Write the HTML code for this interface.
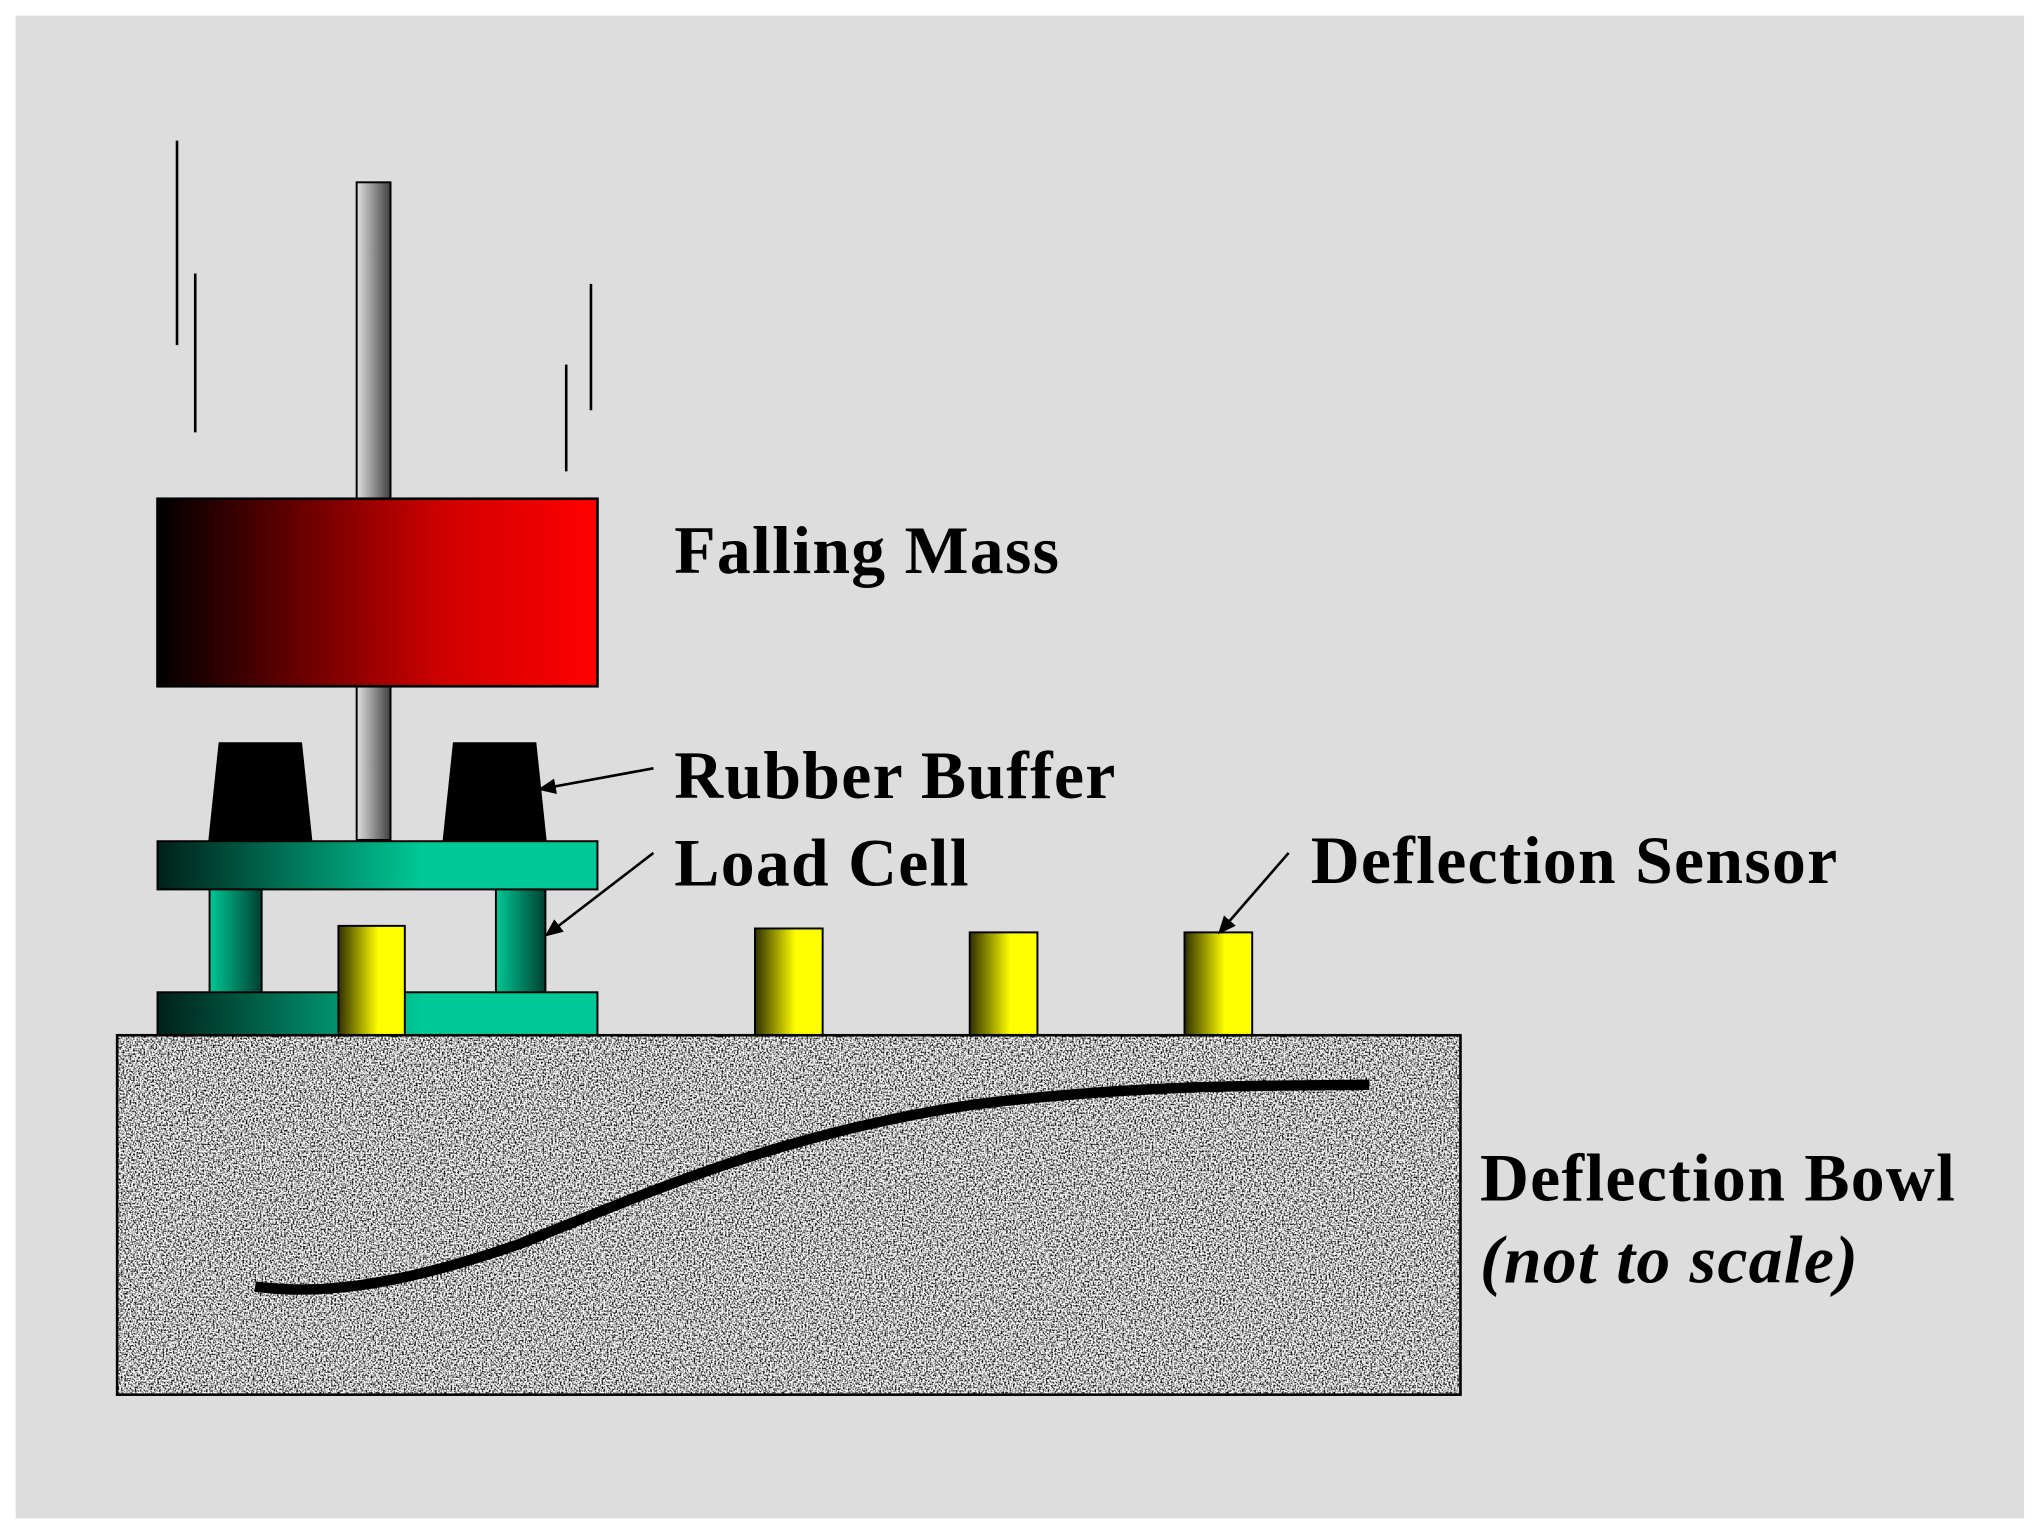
<!DOCTYPE html>
<html><head><meta charset="utf-8"><style>html,body{margin:0;padding:0;background:#fff}svg{display:block}</style></head>
<body>
<svg width="2041" height="1534" viewBox="0 0 1568 1178" preserveAspectRatio="none" xmlns="http://www.w3.org/2000/svg">
<defs>
<linearGradient id="rod" x1="0" x2="1" y1="0" y2="0"><stop offset="0" stop-color="#e0e0e0"/><stop offset="1" stop-color="#404040"/></linearGradient>
<linearGradient id="red" x1="0" x2="1"><stop offset="0" stop-color="#000"/><stop offset="0.65" stop-color="#d00000"/><stop offset="1" stop-color="#ff0000"/></linearGradient>
<linearGradient id="teal" x1="0" x2="1"><stop offset="0" stop-color="#002018"/><stop offset="0.6" stop-color="#00c896"/><stop offset="1" stop-color="#00c896"/></linearGradient>
<linearGradient id="col" x1="0" x2="1"><stop offset="0" stop-color="#00c896"/><stop offset="1" stop-color="#004030"/></linearGradient>
<linearGradient id="yel" x1="0" x2="1"><stop offset="0" stop-color="#303000"/><stop offset="0.6" stop-color="#ffff00"/><stop offset="1" stop-color="#ffff00"/></linearGradient>
<filter id="noise" x="0" y="0" width="100%" height="100%" color-interpolation-filters="sRGB">
<feTurbulence type="fractalNoise" baseFrequency="0.75" numOctaves="2" seed="3" result="t"/>
<feColorMatrix in="t" type="matrix" values="3 0 0 0 -0.78  3 0 0 0 -0.78  3 0 0 0 -0.78  0 0 0 0 1"/>
</filter>
<marker id="ah" markerWidth="14" markerHeight="12" refX="12" refY="6" orient="auto" markerUnits="userSpaceOnUse"><path d="M0,0 L14,6 L0,12 z" fill="#000"/></marker>
</defs>
<rect x="0" y="0" width="1568" height="1178" fill="#fff"/>
<rect x="12" y="12" width="1543" height="1154" fill="#dddddd"/>
<g stroke="#000" stroke-width="2">
<line x1="136" y1="108" x2="136" y2="265"/><line x1="150" y1="210" x2="150" y2="332"/>
<line x1="454" y1="218" x2="454" y2="315"/><line x1="435" y1="280" x2="435" y2="362"/>
</g>
<rect x="274" y="140" width="26" height="505" fill="url(#rod)" stroke="#000" stroke-width="1.5"/>
<rect x="121" y="383" width="338" height="144" fill="url(#red)" stroke="#000" stroke-width="2"/>
<polygon points="168,570 232,570 240,646 160,646" fill="#000"/>
<polygon points="348,570 412,570 420,646 340,646" fill="#000"/>
<rect x="121" y="646" width="338" height="37" fill="url(#teal)" stroke="#000" stroke-width="1.5"/>
<rect x="161" y="683" width="40" height="80" fill="url(#col)" stroke="#000" stroke-width="1.5"/>
<rect x="381" y="683" width="38" height="80" fill="url(#col)" stroke="#000" stroke-width="1.5"/>
<rect x="121" y="762" width="338" height="33" fill="url(#teal)" stroke="#000" stroke-width="1.5"/>
<g stroke="#000" stroke-width="1.5" fill="url(#yel)">
<rect x="260" y="711" width="51" height="84"/><rect x="580" y="713" width="52" height="82"/>
<rect x="745" y="716" width="52" height="79"/><rect x="910" y="716" width="52" height="79"/>
</g>
<rect x="90" y="795" width="1032" height="276" fill="#bdbdbd" filter="url(#noise)"/>
<rect x="90" y="795" width="1032" height="276" fill="none" stroke="#000" stroke-width="2"/>
<path d="M196,988 C240,994 300,990 400,955 C500,915 600,870 750,848 C880,832 980,834 1052,833" fill="none" stroke="#000" stroke-width="8"/>
<g stroke="#000" stroke-width="2" marker-end="url(#ah)">
<line x1="502" y1="590" x2="415" y2="606"/>
<line x1="502" y1="655" x2="420" y2="718"/>
<line x1="990" y1="655" x2="937" y2="716"/>
</g>
<g font-family="Liberation Serif, serif" font-weight="bold" font-size="52" letter-spacing="1" fill="#000">
<text x="518" y="440">Falling Mass</text>
<text x="518" y="613">Rubber Buffer</text>
<text x="518" y="680">Load Cell</text>
<text x="1007" y="678">Deflection Sensor</text>
<text x="1137" y="922">Deflection Bowl</text>
<text x="1137" y="985" font-style="italic">(not to scale)</text>
</g>
</svg>
</body></html>
